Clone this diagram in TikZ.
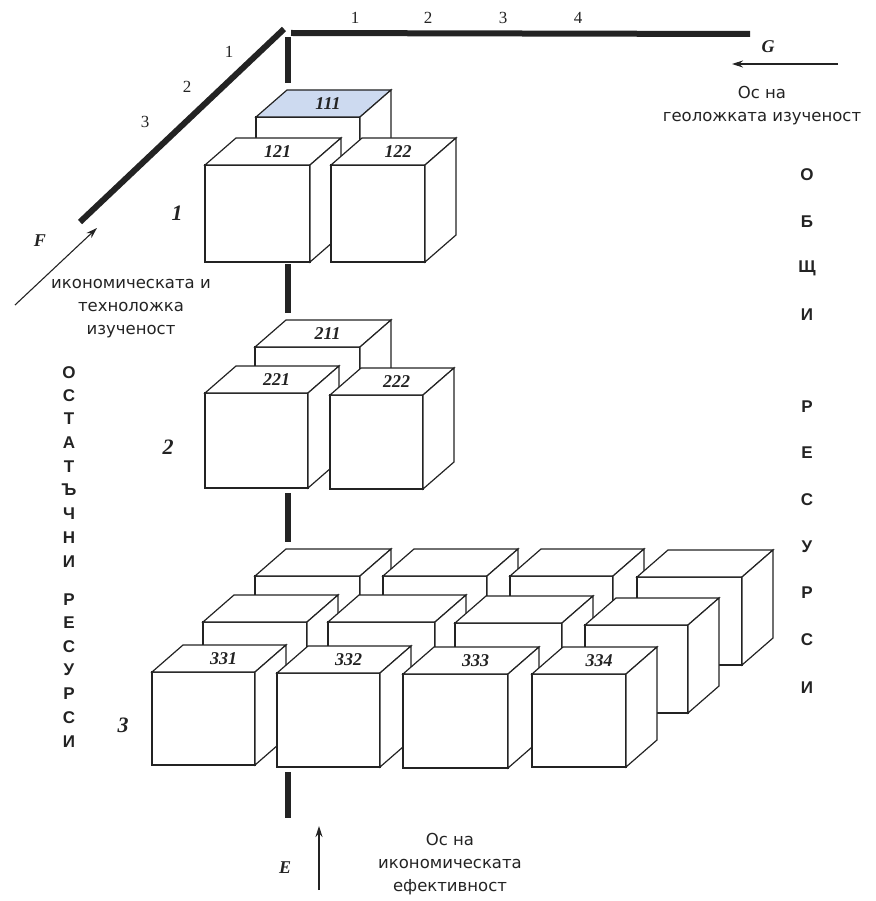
\documentclass[tikz,border=0pt]{standalone}
\usepackage{fontspec}
\setmainfont{Liberation Serif}
\setsansfont{DejaVu Sans}
\newfontfamily\letf{Liberation Sans}
\usetikzlibrary{arrows.meta}
\definecolor{topblue}{RGB}{205,218,240}
\definecolor{inkc}{RGB}{35,35,35}
\tikzset{
  cubeline/.style={draw=inkc,line width=1.2pt,line join=miter,fill=white},
  axisline/.style={draw=inkc,line width=6pt},
  thinarrow/.style={draw=inkc,line width=1.1pt,-{Stealth[length=11pt,width=7pt]}},
  boxlabel/.style={font=\fontsize{18}{18}\selectfont\bfseries\itshape,text=inkc,inner sep=0pt},
  grouplabel/.style={font=\fontsize{22}{22}\selectfont\bfseries\itshape,text=inkc,inner sep=0pt},
  axislabel/.style={font=\fontsize{18}{18}\selectfont\bfseries\itshape,text=inkc,inner sep=0pt},
  ticklabel/.style={font=\fontsize{17}{17}\selectfont,text=inkc,inner sep=0pt},
  captext/.style={font=\sffamily\fontsize{16.5}{23}\selectfont,text=inkc,align=center,inner sep=0pt},
  vletter/.style={font=\letf\bfseries\fontsize{17}{17}\selectfont,text=inkc,inner sep=0pt}
}
% #1 name, #2 x, #3 y (front top-left), #4 width, #5 height, #6 label, #7 top fill
\newcommand\cubebox[7]{%
  \draw[cubeline] (#2,#3) rectangle ++(#4,#5);
  \draw[cubeline,fill=#7] (#2,#3) -- ++(31,-27) -- ++(#4,0) -- ++(-31,27) -- cycle;
  \draw[cubeline] ({#2+#4},#3) -- ++(31,-27) -- ++(0,#5) -- ++(-31,27) -- cycle;
  \node[boxlabel] (#1) at ({#2+#4/2+20},{#3-13}) {#6};
}
\begin{document}
\begin{tikzpicture}[x=1pt,y=-1pt]
\useasboundingbox (0,0) rectangle (875,901);

% axes
\coordinate (O1) at (284,29);
\coordinate (Fend) at (80,222);
\coordinate (O2) at (291,33);
\coordinate (Gend) at (750,34);
\draw[axisline] (O1) -- (Fend);
\draw[axisline] (O2) -- (Gend);
\coordinate (v1a) at (288,37); \coordinate (v1b) at (288,83);
\coordinate (v2a) at (288,264); \coordinate (v2b) at (288,313);
\coordinate (v3a) at (288,493); \coordinate (v3b) at (288,542);
\coordinate (v4a) at (288,772); \coordinate (v4b) at (288,818);
\draw[axisline] (v1a) -- (v1b);
\draw[axisline] (v2a) -- (v2b);
\draw[axisline] (v3a) -- (v3b);
\draw[axisline] (v4a) -- (v4b);

% tick labels
\node[ticklabel] (h1) at (355,18) {1};
\node[ticklabel] (h2) at (428,18) {2};
\node[ticklabel] (h3) at (503,18) {3};
\node[ticklabel] (h4) at (578,18) {4};
\node[ticklabel] (d1) at (229,52) {1};
\node[ticklabel] (d2) at (187,87) {2};
\node[ticklabel] (d3) at (145,122) {3};

% axis letters and arrows
\node[axislabel] (G) at (768,47) {G};
\coordinate (Ga) at (838,64); \coordinate (Gb) at (732,64);
\draw[thinarrow] (Ga) -- (Gb);
\node[captext] (Gtxt) at (762,106) {Ос на\\геоложката изученост};

\node[axislabel] (F) at (40,241) {F};
\coordinate (Fa) at (15,305); \coordinate (Fb) at (97,228);
\draw[thinarrow] (Fa) -- (Fb);
\node[captext] (Ftxt) at (131,309) {икономическата и\\техноложка\\изученост};

\node[axislabel] (E) at (285,868) {E};
\coordinate (Ea) at (319,890); \coordinate (Eb) at (319,826);
\draw[thinarrow] (Ea) -- (Eb);
\node[captext] (Etxt) at (450,864) {Ос на\\икономическата\\ефективност};

% group 1
\cubebox{b111}{256}{117}{104}{94}{111}{topblue}
\cubebox{b121}{205}{165}{105}{97}{121}{white}
\cubebox{b122}{331}{165}{94}{97}{122}{white}
\node[grouplabel] (g1) at (177,213) {1};

% group 2
\cubebox{b211}{255}{347}{105}{94}{211}{white}
\cubebox{b221}{205}{393}{103}{95}{221}{white}
\cubebox{b222}{330}{395}{93}{94}{222}{white}
\node[grouplabel] (g2) at (168,447) {2};

% group 3 back row
\cubebox{c31}{255}{576}{105}{88}{}{white}
\cubebox{c32}{383}{576}{104}{88}{}{white}
\cubebox{c33}{510}{576}{103}{88}{}{white}
\cubebox{c34}{637}{577}{105}{88}{}{white}
% middle row
\cubebox{c21}{203}{622}{104}{90}{}{white}
\cubebox{c22}{328}{622}{107}{90}{}{white}
\cubebox{c23}{455}{623}{107}{90}{}{white}
\cubebox{c24}{585}{625}{103}{88}{}{white}
% front row
\cubebox{b331}{152}{672}{103}{93}{331}{white}
\cubebox{b332}{277}{673}{103}{94}{332}{white}
\cubebox{b333}{403}{674}{105}{94}{333}{white}
\cubebox{b334}{532}{674}{94}{93}{334}{white}
\node[grouplabel] (g3) at (123,725) {3};

% right column
\foreach \t/\yy [count=\i] in {О/175,Б/222,Щ/268,И/315,Р/407,Е/453,С/500,У/547,Р/593,С/640,И/688}
  \node[vletter] (r\i) at (807,\yy) {\t};
% left column
\foreach \t/\yy [count=\i] in {О/373,С/396,Т/419,А/443,Т/467,Ъ/490,Ч/514,Н/538,И/562,Р/600,Е/623,С/647,У/670,Р/694,С/718,И/742}
  \node[vletter] (l\i) at (69,\yy) {\t};
\end{tikzpicture}
\end{document}
